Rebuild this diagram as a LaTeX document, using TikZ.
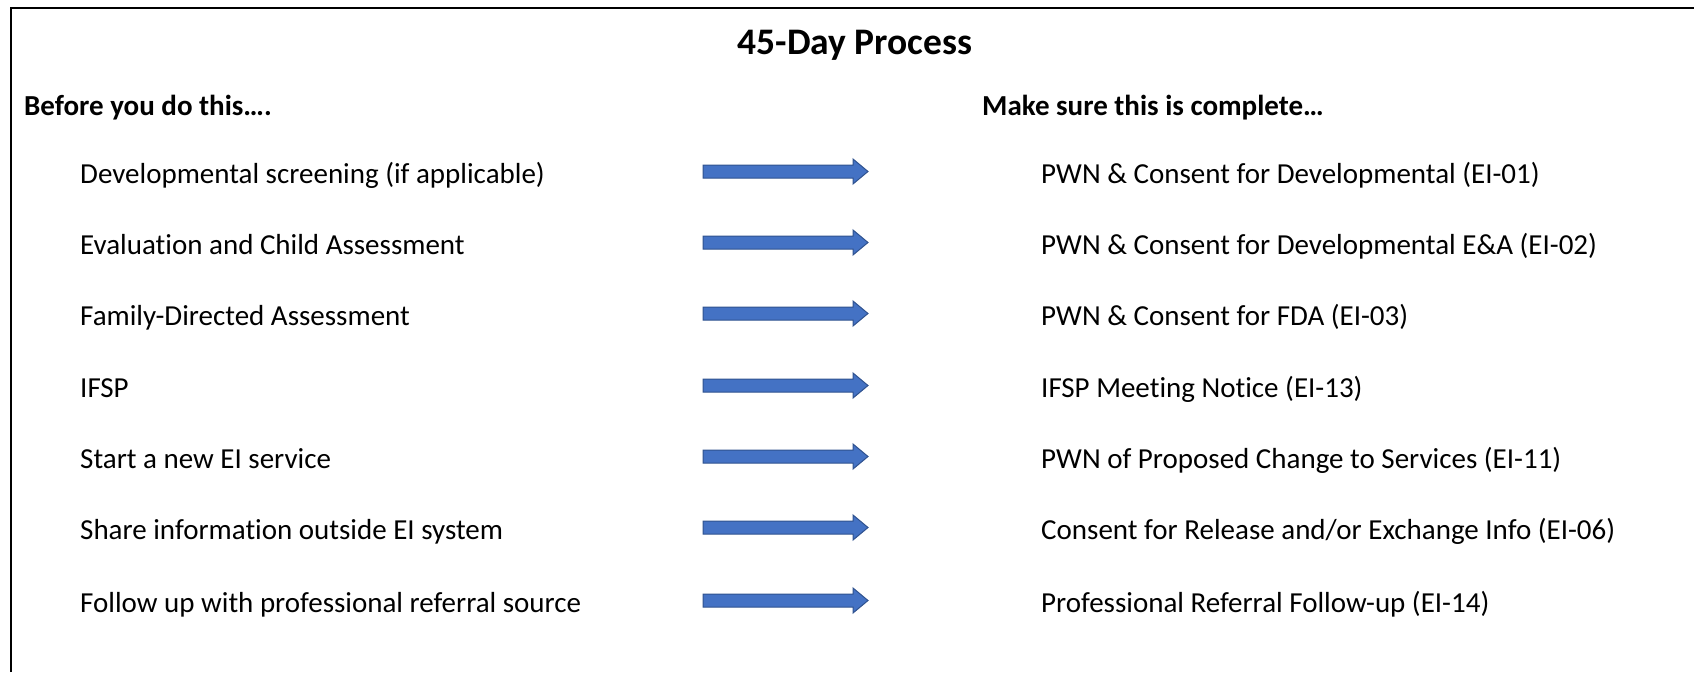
\documentclass[tikz,border=0pt]{standalone}
\usepackage{fontspec}
\setmainfont{Carlito}[Ligatures=NoCommon]
\definecolor{arrowfill}{HTML}{4472C4}
\definecolor{arrowline}{HTML}{2F528F}
\begin{document}
\begin{tikzpicture}[x=1pt,y=-1pt,
  frame/.style={line width=2pt,black},
  titletext/.style={font=\fontsize{37.5}{44}\selectfont\bfseries,inner sep=0pt},
  headtext/.style={font=\fontsize{29}{34}\selectfont\bfseries,anchor=base west,inner sep=0pt},
  itemtext/.style={font=\fontsize{29}{34}\selectfont,anchor=base west,inner sep=0pt},
  blockarrow/.style={fill=arrowfill,draw=arrowline,line width=1pt,line join=miter}]
\useasboundingbox (0,0) rectangle (1694,672);
\draw[frame] (11,672) -- (11,7.5) -- (1694,7.5);
\node[titletext,anchor=base] (title) at (855,54) {45-Day Process};
\node[headtext] (hleft) at (24,115) {Before you do this….};
\node[headtext] (hright) at (982,115) {Make sure this is complete…};
\foreach \i/\y/\l/\r in {
  1/183/{Developmental screening (if applicable)}/{PWN \& Consent for Developmental (EI-01)},
  2/254/{Evaluation and Child Assessment}/{PWN \& Consent for Developmental E\&A (EI-02)},
  3/325/{Family-Directed Assessment}/{PWN \& Consent for FDA (EI-03)},
  4/397/{IFSP}/{IFSP Meeting Notice (EI-13)},
  5/468/{Start a new EI service}/{PWN of Proposed Change to Services (EI-11)},
  6/539/{Share information outside EI system}/{Consent for Release and/or Exchange Info (EI-06)},
  7/612/{Follow up with professional referral source}/{Professional Referral Follow-up (EI-14)}}{
  \node[itemtext] (left\i) at (80,\y) {\l};
  \node[itemtext] (right\i) at (1041,\y) {\r};
  \draw[blockarrow] (703,\y-18) -- (853,\y-18) -- (853,\y-24) -- (868,\y-11.5) --
    (853,\y+1) -- (853,\y-5) -- (703,\y-5) -- cycle;
}
\end{tikzpicture}
\end{document}
